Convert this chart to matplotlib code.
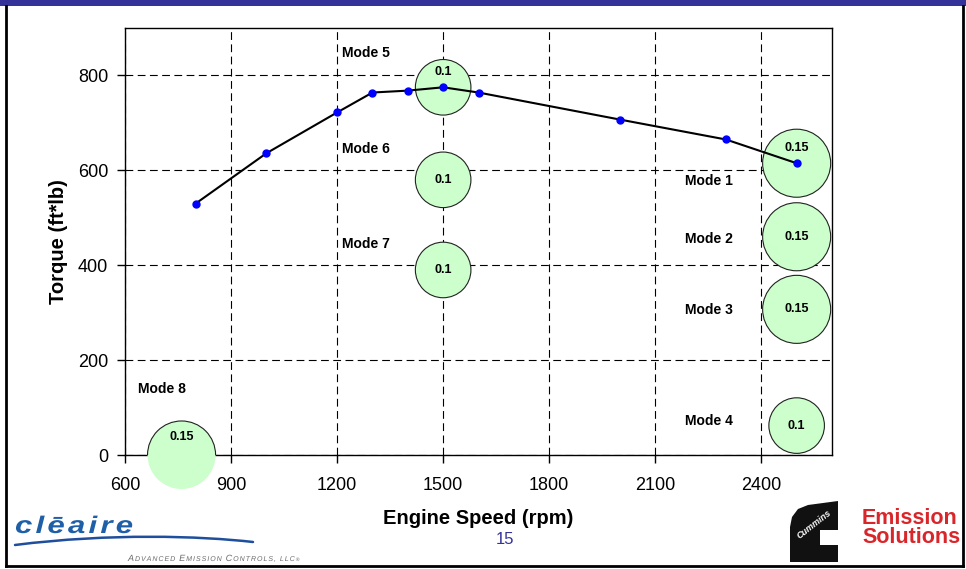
import matplotlib

matplotlib.use("Agg")
import matplotlib.pyplot as plt
from matplotlib.font_manager import FontProperties
from matplotlib.lines import Line2D
from matplotlib.patches import PathPatch, Polygon, Rectangle
from matplotlib.path import Path
from matplotlib.textpath import TextPath, text_to_path
from matplotlib.transforms import Affine2D

plt.rcParams["font.family"] = ["Liberation Sans", "DejaVu Sans"]

# full-load torque curve
speed = [800, 1000, 1200, 1300, 1400, 1500, 1600, 2000, 2300, 2500]
torque = [530, 636, 722, 764, 768, 775, 764, 707, 665, 615]

# test modes (bubble = weighting factor)
modes = ["Mode 1", "Mode 2", "Mode 3", "Mode 4", "Mode 5", "Mode 6", "Mode 7", "Mode 8"]
mode_speed = [2500, 2500, 2500, 2500, 1500, 1500, 1500, 760]
mode_torque = [615, 460, 307, 62, 775, 580, 390, 0]
mode_weight = [0.15, 0.15, 0.15, 0.1, 0.1, 0.1, 0.1, 0.15]

x_ticks = [600, 900, 1200, 1500, 1800, 2100, 2400]
y_ticks = [0, 200, 400, 600, 800]

# where the "Mode n" captions sit (data coords) and how far the weight label is lifted (points)
label_pos = [(2185, 577), (2185, 455), (2185, 305), (2185, 72),
             (1214, 848), (1214, 644), (1214, 444), (637, 139)]
weight_lift = [11, 0, 0, 0, 11, 0, 0, 13]

W, H = 966, 569


def px(x, y):
    # pixel position (from top-left) -> figure fraction
    return x / W, 1 - y / H


def spaced_text(fig, x, y, parts, color, weight="normal", style="normal",
                stretch=1.0, track=0.0):
    """Draw text as a path, letter by letter, so tracking/stretch can be set.
    parts: list of (string, em size in px). x, y: left/baseline in pixels."""
    paths = []
    off = 0.0
    for txt, size in parts:
        fp = FontProperties(family="Liberation Sans", weight=weight, style=style, size=size)
        for ch in txt:
            w, _, _ = text_to_path.get_text_width_height_descent(ch, fp, ismath=False)
            if ch != " ":
                tp = TextPath((0, 0), ch, prop=fp)
                paths.append(tp.transformed(Affine2D().scale(stretch, 1).translate(off, 0)))
            off += w * stretch + track
    path = Path.make_compound_path(*paths)
    tr = Affine2D().scale(1 / W, 1 / H).translate(x / W, 1 - y / H) + fig.transFigure
    fig.add_artist(PathPatch(path, transform=tr, facecolor=color, edgecolor="none"))


fig = plt.figure(figsize=(W / 100, H / 100), dpi=100)
ax = fig.add_axes([125 / W, 114 / H, 707 / W, 427 / H])

ax.set_xlim(600, 2600)
ax.set_ylim(0, 900)
ax.set_xticks(x_ticks)
ax.set_yticks(y_ticks)
ax.tick_params(labelsize=13, length=6, width=1, direction="out", colors="black")
ax.tick_params(axis="x", pad=10)
ax.tick_params(axis="y", pad=6)
ax.grid(True, color="black", linestyle=(0, (7, 4)), linewidth=0.8)
ax.set_axisbelow(True)
for sp in ax.spines.values():
    sp.set_linewidth(1.0)

sizes = [16000 * w for w in mode_weight]
# fill may spill over the frame (Mode 8 at zero torque), outline only inside the plot
ax.scatter(mode_speed, mode_torque, s=sizes, facecolor="#ccffcc", edgecolor="none",
           zorder=3, clip_on=False)
ax.scatter(mode_speed, mode_torque, s=sizes, facecolor="#ccffcc", edgecolor="#222222",
           linewidth=0.8, zorder=3.1)
ax.plot(speed, torque, color="black", lw=1.5, zorder=4)
ax.plot(speed, torque, "o", color="#0000ff", ms=5, zorder=5)

for i, name in enumerate(modes):
    ax.text(label_pos[i][0], label_pos[i][1], name, fontsize=10, fontweight="bold",
            ha="left", va="center", zorder=6)
    ax.annotate(f"{mode_weight[i]:g}", (mode_speed[i], mode_torque[i]),
                xytext=(0, weight_lift[i]), textcoords="offset points",
                ha="center", va="center", fontsize=9, fontweight="bold", zorder=6,
                annotation_clip=False)

ax.set_xlabel("Engine Speed (rpm)", fontsize=14.5, fontweight="bold", labelpad=11)
ax.set_ylabel("Torque (ft*lb)", fontsize=14.5, fontweight="bold", labelpad=7)

# slide frame
fig.add_artist(Rectangle(px(0, 6), 1, 6 / H, transform=fig.transFigure,
                         facecolor="#333399", edgecolor="none"))
fig.add_artist(Line2D([6 / W, 6 / W], [3 / H, 1 - 6 / H], color="black", lw=2))
fig.add_artist(Line2D([963 / W, 963 / W], [3 / H, 1 - 6 / H], color="black", lw=2, zorder=5))
fig.add_artist(Line2D([6 / W, 963 / W], [3 / H, 3 / H], color="black", lw=2))

# page number
fig.text(*px(505, 539), "15", color="#333399", fontsize=12, ha="center", va="center")

# cleaire logo
spaced_text(fig, 15, 533, [("clēaire", 24)], "#1f5fa8", weight="bold", style="italic",
            stretch=1.3, track=3.2)
swoosh = Path([px(15, 545), px(110, 533), px(200, 536), px(253, 542)],
              [Path.MOVETO, Path.CURVE4, Path.CURVE4, Path.CURVE4])
fig.add_artist(PathPatch(swoosh, transform=fig.transFigure, facecolor="none",
                         edgecolor="#1f4f9c", lw=1.8, capstyle="round"))
spaced_text(fig, 128, 561, [("A", 9), ("DVANCED ", 7), ("E", 9), ("MISSION ", 7),
                            ("C", 9), ("ONTROLS, ", 7), ("LLC", 7), ("®", 5)],
            "#6a6a6a", style="italic", track=1.0)

# cummins logo
c_pts = [(790, 562), (790, 527), (792, 517), (798, 509), (808, 505), (838, 501),
         (838, 530), (820, 530), (820, 545), (838, 545), (838, 562)]
fig.add_artist(Polygon([px(x, y) for x, y in c_pts], closed=True,
                       transform=fig.transFigure, facecolor="#111111", edgecolor="none"))
fig.text(*px(814, 524), "Cummins", color="white", fontsize=6.5, fontweight="bold",
         style="italic", rotation=38, ha="center", va="center")
fig.text(*px(862, 528), "Emission\nSolutions", color="#d9262a", fontsize=15.5,
         fontweight="bold", ha="left", va="center", linespacing=0.82)

fig.savefig("out.png", dpi=100)
